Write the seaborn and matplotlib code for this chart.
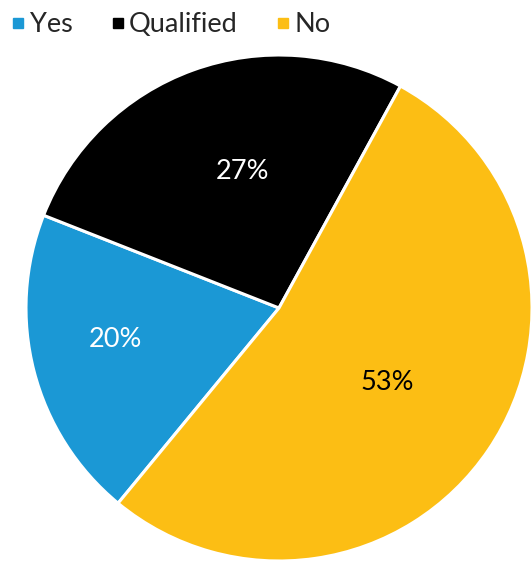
import matplotlib
matplotlib.use("Agg")
import matplotlib.pyplot as plt
import seaborn as sns
import numpy as np
from matplotlib.lines import Line2D

sns.set_theme(style="white")
plt.rcParams['font.family'] = ['Lato', 'DejaVu Sans']

categories = ["Yes", "Qualified", "No"]
values = [20, 27, 53]
colors = ["#1b98d5", "#000000", "#fcbe14"]
text_colors = ["white", "white", "black"]

fig = plt.figure(figsize=(5.31, 5.63), dpi=100)
cx, cy, r = 279, 308, 253
W, H = 531, 563
ax = fig.add_axes([(cx - r) / W, (H - cy - r) / H, 2 * r / W, 2 * r / H])

wedges, texts, autotexts = ax.pie(
    values, colors=colors, startangle=230.5, counterclock=False,
    autopct=lambda p: f"{p:.0f}%", pctdistance=0.58, radius=1,
    wedgeprops=dict(edgecolor="white", linewidth=2.2),
    textprops=dict(fontsize=19.5))
for t, c in zip(autotexts, text_colors):
    t.set_color(c)

# label placement (angle in degrees, radius fraction)
label_polar = [(191.0, 0.66), (105.0, 0.56), (325.5, 0.52)]
for t, (a, rr) in zip(autotexts, label_polar):
    ang = np.deg2rad(a)
    t.set_position((rr * np.cos(ang), rr * np.sin(ang)))
ax.set_xlim(-1, 1)
ax.set_ylim(-1, 1)
ax.set_aspect("equal")
ax.axis("off")

handles = [Line2D([0], [0], marker="s", linestyle="none", markersize=7.5,
                  markerfacecolor=c, markeredgecolor=c) for c in colors]
fig.legend(handles, categories, loc="upper left", bbox_to_anchor=(-0.026, 1.022),
           ncol=3, frameon=False, fontsize=19.5, handlelength=0.55,
           handletextpad=0.15, columnspacing=1.4)

fig.savefig("out.png", dpi=100)
